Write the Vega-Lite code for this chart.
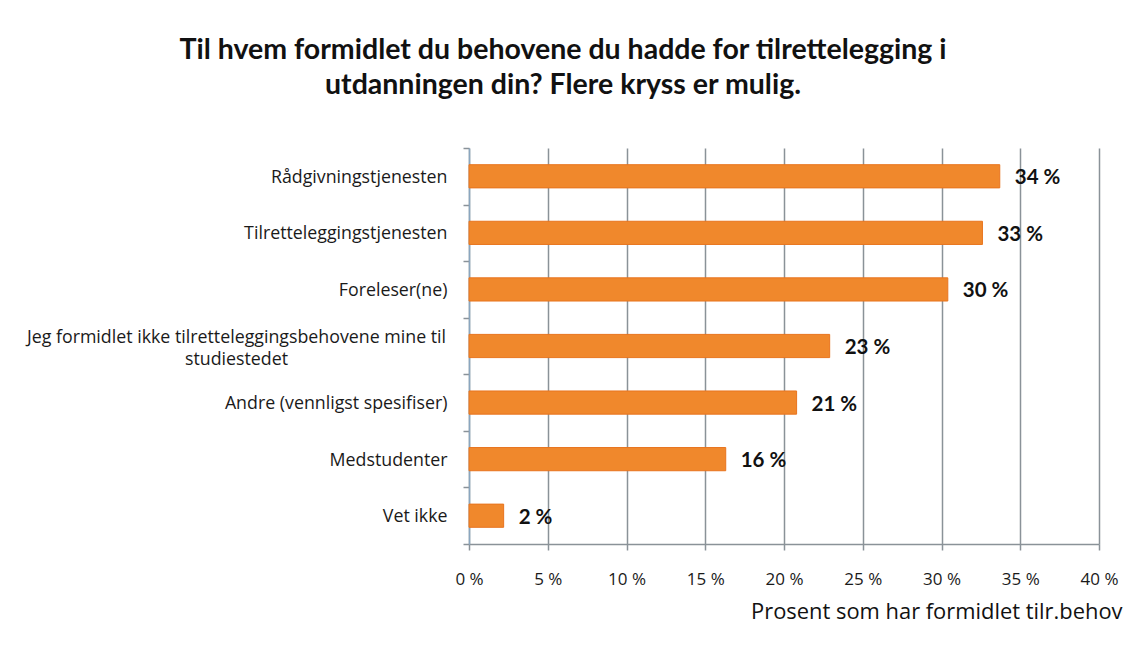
{
  "$schema": "https://vega.github.io/schema/vega-lite/v6.json",
  "autosize": {"type": "none"},
  "width": 630,
  "height": 396,
  "padding": {"left": 469, "top": 148, "right": 28, "bottom": 101},
  "background": "white",
  "title": {
    "text": ["Til hvem formidlet du behovene du hadde for tilrettelegging i", "utdanningen din? Flere kryss er mulig."],
    "font": "Lato",
    "fontSize": 28.5,
    "fontWeight": "bold",
    "color": "#111111",
    "anchor": "middle",
    "dx": -221,
    "offset": 40,
    "lineHeight": 35
  },
  "data": {
    "values": [
      {"kategori": "Rådgivningstjenesten", "prosent": 33.7, "label": "34 %"},
      {"kategori": "Tilretteleggingstjenesten", "prosent": 32.6, "label": "33 %"},
      {"kategori": "Foreleser(ne)", "prosent": 30.4, "label": "30 %"},
      {"kategori": "Jeg formidlet ikke tilretteleggingsbehovene mine til studiestedet", "prosent": 22.9, "label": "23 %"},
      {"kategori": "Andre (vennligst spesifiser)", "prosent": 20.8, "label": "21 %"},
      {"kategori": "Medstudenter", "prosent": 16.3, "label": "16 %"},
      {"kategori": "Vet ikke", "prosent": 2.2, "label": "2 %"}
    ]
  },
  "encoding": {
    "y": {
      "field": "kategori",
      "type": "nominal",
      "sort": null,
      "scale": {"paddingInner": 0, "paddingOuter": 0},
      "axis": {
        "title": null,
        "tickBand": "extent",
        "tickSize": 6,
        "tickColor": "#8a9298",
        "tickWidth": 1.5,
        "domainColor": "#8aa6bf",
        "domainWidth": 1.5,
        "labelFont": "Open Sans",
        "labelFontSize": 17.8,
        "labelColor": "#1a1a1a",
        "labelLimit": 500,
        "labelLineHeight": 22,
        "labelExpr": "datum.value == 'Jeg formidlet ikke tilretteleggingsbehovene mine til studiestedet' ? ['Jeg formidlet ikke tilretteleggingsbehovene mine til', 'studiestedet'] : datum.label",
        "labelAlign": {"condition": {"test": "datum.value == 'Jeg formidlet ikke tilretteleggingsbehovene mine til studiestedet'", "value": "center"}, "value": "right"},
        "labelPadding": {"condition": {"test": "datum.value == 'Jeg formidlet ikke tilretteleggingsbehovene mine til studiestedet'", "value": 227}, "value": 16},
        "labelOffset": {"condition": {"test": "datum.value == 'Jeg formidlet ikke tilretteleggingsbehovene mine til studiestedet'", "value": -9}, "value": 1}
      }
    },
    "x": {
      "field": "prosent",
      "type": "quantitative",
      "scale": {"domain": [0, 40], "nice": false},
      "axis": {
        "values": [0, 5, 10, 15, 20, 25, 30, 35, 40],
        "labelExpr": "datum.value + ' %'",
        "labelFlush": false,
        "grid": true,
        "gridColor": "#8a9298",
        "gridWidth": 1.5,
        "tickSize": 6,
        "tickColor": "#8a9298",
        "tickWidth": 1.5,
        "domainColor": "#8a9298",
        "domainWidth": 1.5,
        "labelFont": "Open Sans",
        "labelFontSize": 17,
        "labelColor": "#1a1a1a",
        "labelPadding": 21,
        "title": "Prosent som har formidlet tilr.behov",
        "titleFont": "Open Sans",
        "titleFontSize": 21.9,
        "titleFontWeight": "normal",
        "titleColor": "#111111",
        "titleAnchor": "end",
        "titleAlign": "right",
        "titleX": 653,
        "titleY": 74,
        "titleBaseline": "alphabetic"
      }
    }
  },
  "layer": [
    {
      "mark": {"type": "bar", "height": {"band": 0.41}, "color": "#f0882c", "stroke": "#e8741e", "strokeWidth": 1}
    },
    {
      "mark": {"type": "text", "align": "left", "baseline": "middle", "dx": 15, "dy": 2, "font": "Lato", "fontSize": 20.5, "fontWeight": "bold", "color": "#111111"},
      "encoding": {"text": {"field": "label"}}
    }
  ],
  "config": {
    "view": {"stroke": null},
    "axis": {"gridOpacity": 1}
  }
}
